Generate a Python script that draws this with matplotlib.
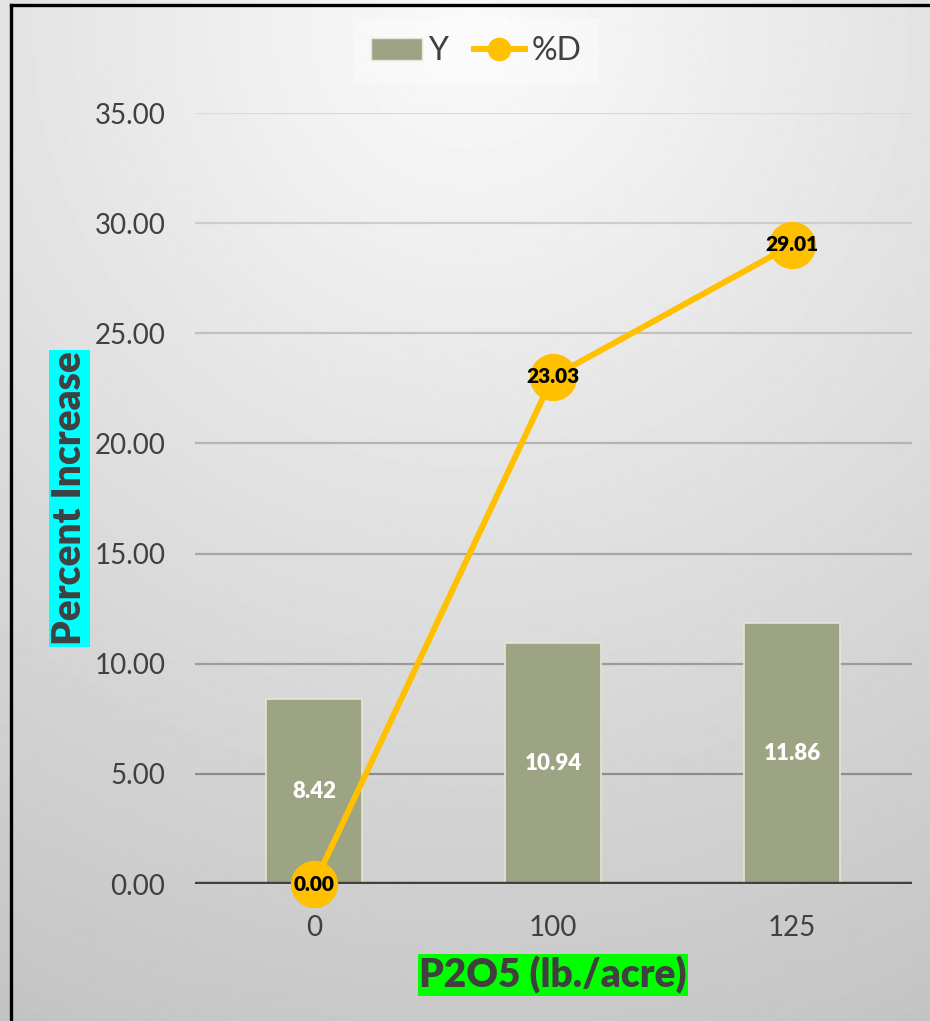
import numpy as np
import matplotlib
matplotlib.use("Agg")
import matplotlib.pyplot as plt
from matplotlib.lines import Line2D
from matplotlib.patches import Patch

plt.rcParams['font.family'] = ['Lato', 'DejaVu Sans']

# Data
categories = ['0', '100', '125']
y_values = [8.42, 10.94, 11.86]
pct_values = [0.00, 23.03, 29.01]
y_ticks = [0, 5, 10, 15, 20, 25, 30, 35]

W, H = 930, 1021
fig = plt.figure(figsize=(W / 100, H / 100), dpi=100)

# radial grey background, light at top centre
bg = fig.add_axes([0, 0, 1, 1], zorder=-10)
yy, xx = np.mgrid[0:H, 0:W]
dist = np.hypot(xx - 470, yy - 30)
shade = np.clip(250 - 0.05 * dist, 0, 255) / 255.0
bg.imshow(shade, cmap='gray', vmin=0, vmax=1, aspect='auto',
          extent=[0, 1, 0, 1], origin='upper')
bg.axis('off')

# black frame (left and top only visible)
fig.add_artist(Line2D([11 / W, 11 / W], [0, 1 - 5 / H], color='black', lw=2.4,
                      transform=fig.transFigure))
fig.add_artist(Line2D([11 / W, 1], [1 - 5 / H, 1 - 5 / H], color='black', lw=2.4,
                      transform=fig.transFigure))

ax = fig.add_axes([194.5 / W, 137 / H, 717 / W, 771 / H])
ax.patch.set_alpha(0)
x = np.arange(len(categories))

# grid lines, darker lower down
for t in y_ticks[1:]:
    f = (t - 5) / 30.0
    c = np.array([0x8e, 0x8e, 0x8e]) * (1 - f) + np.array([0xda, 0xda, 0xda]) * f
    ax.axhline(t, color=c / 255.0, lw=1.6, zorder=0)
ax.axhline(0, color='#404040', lw=3.2, zorder=3)

bars = ax.bar(x, y_values, width=0.4, color='#9da483', edgecolor='#e4e6d8',
              linewidth=1.2, zorder=2)
for xi, v in zip(x, y_values):
    ax.text(xi, v / 2, f'{v:.2f}', ha='center', va='center', color='white',
            fontsize=16, fontweight='heavy', zorder=5)

ax.plot(x, pct_values, color='#ffc000', lw=4.3, marker='o', markersize=33,
        zorder=4, clip_on=False)
for xi, v in zip(x, pct_values):
    ax.text(xi, v, f'{v:.2f}', ha='center', va='center', color='black',
            fontsize=15, fontweight='heavy', zorder=6)

ax.set_xlim(-0.5, 2.5)
ax.set_ylim(0, 35)
ax.set_xticks(x)
ax.set_xticklabels(categories)
ax.set_yticks(y_ticks)
ax.set_yticklabels([f'{t:.2f}' for t in y_ticks])
ax.tick_params(axis='both', length=0, labelsize=20, labelcolor='#404040')
ax.tick_params(axis='y', pad=21)
ax.tick_params(axis='x', pad=22)
for s in ax.spines.values():
    s.set_visible(False)

ax.set_ylabel('Percent Increase', fontsize=28, fontweight='heavy', color='#404040',
              bbox=dict(facecolor='#00ffff', edgecolor='none', pad=1))
ax.yaxis.set_label_coords(-0.1485, 0.5)
ax.set_xlabel('P2O5 (lb./acre)', fontsize=28, fontweight='heavy', color='#404040',
              bbox=dict(facecolor='#00ff00', edgecolor='none', pad=1))
ax.xaxis.set_label_coords(0.5, -0.093)

handles = [Patch(facecolor='#9da483', edgecolor='#e4e6d8', label='Y'),
           Line2D([0], [0], color='#ffc000', lw=4.3, marker='o', markersize=16,
                  label='%D')]
leg = fig.legend(handles=handles, loc='center', bbox_to_anchor=(0.512, 0.95),
                 ncol=2, fontsize=23, frameon=True, fancybox=False,
                 handlelength=1.6, handletextpad=0.2, columnspacing=0.8,
                 borderpad=0.55)
leg.get_frame().set_facecolor('white')
leg.get_frame().set_alpha(0.35)
leg.get_frame().set_edgecolor('none')
for t in leg.get_texts():
    t.set_color('#404040')

fig.savefig('out.png', dpi=100)
